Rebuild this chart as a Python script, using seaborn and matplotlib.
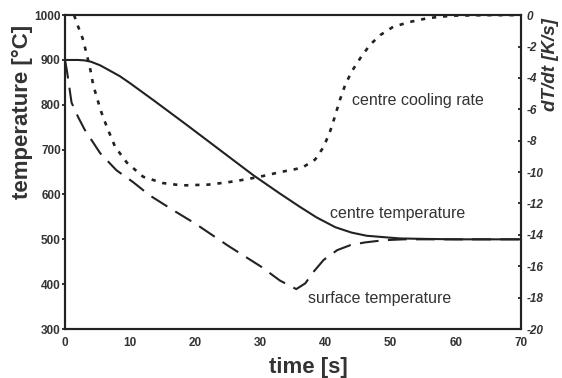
import matplotlib
matplotlib.use("Agg")
import matplotlib.pyplot as plt
import seaborn as sns

# centre temperature (solid)
centre_time = [0, 2, 3, 4, 5.4, 8.4, 10, 13.6, 18.7, 23.8, 28.9, 31, 33, 36, 38.6, 41.5, 44, 46.3, 48.8, 51.4, 55, 60, 70]
centre_temp = [900, 900, 899, 896, 888, 864, 848, 810, 755, 699, 643, 622, 602, 573, 549, 527, 515, 508, 505, 502, 501, 500, 500]

# surface temperature (dashed)
surface_time = [0, 0.3, 1, 2, 3, 5.4, 7.9, 10.5, 13, 16.6, 20, 25, 30, 33, 35.5, 36.9, 38, 39.7, 41.8, 43.8, 46, 48.9, 52, 60, 70]
surface_temp = [900, 875, 805, 773, 745, 692, 654, 627, 598, 565, 535, 486, 440, 408, 389, 402, 425, 454, 476, 487, 493, 498, 500, 500, 500]

# centre cooling rate (dotted, right axis)
rate_time = [1.4, 1.8, 2.7, 3.3, 3.9, 4.35, 5, 5.5, 6.4, 7.7, 9.5, 12, 15, 18, 22, 25, 28, 31, 33, 35, 36.5,
             38.4, 39.7, 40.7, 41.4, 42.2, 43, 44, 45.3, 46.8, 48.4, 50.4, 53, 55.5, 57.6, 60, 65, 70]
rate_value = [0, -0.5, -1.48, -2.44, -3.5, -4.5, -5.4, -6.1, -7.1, -8.4, -9.4, -10.3, -10.7, -10.85, -10.8, -10.65,
              -10.45, -10.2, -10.0, -9.85, -9.7, -9.2, -8.4, -7.4, -6.5, -5.4, -4.46, -3.6, -2.76, -1.9, -1.27,
              -0.74, -0.43, -0.21, -0.1, -0.03, 0, 0]

x_ticks = [0, 10, 20, 30, 40, 50, 60, 70]
temp_ticks = [300, 400, 500, 600, 700, 800, 900, 1000]
rate_ticks = [0, -2, -4, -6, -8, -10, -12, -14, -16, -18, -20]

sns.set_style("white")
plt.rcParams["font.family"] = ["Liberation Sans", "DejaVu Sans"]
plt.rcParams["axes.unicode_minus"] = False

ink = "#222222"
txt = "#333333"

fig, ax = plt.subplots(figsize=(5.62, 3.78), dpi=100)
fig.subplots_adjust(left=0.1157, right=0.927, bottom=0.1296, top=0.960)
ax2 = ax.twinx()

sns.lineplot(x=centre_time, y=centre_temp, ax=ax, color=ink, lw=1.5, estimator=None, sort=False)
sns.lineplot(x=surface_time, y=surface_temp, ax=ax, color=ink, lw=1.5, estimator=None, sort=False,
             linestyle=(0, (9, 4.5)))
sns.lineplot(x=rate_time, y=rate_value, ax=ax2, color=ink, lw=1.9, estimator=None, sort=False,
             linestyle=(0, (1.6, 2.6)))

ax.set_xlim(0, 70)
ax.set_ylim(300, 1000)
ax2.set_ylim(-20, 0)

ax.set_xticks(x_ticks)
ax.set_xticklabels([str(v) for v in x_ticks], fontweight="bold", fontsize=8.5, color=txt)
ax.set_yticks(temp_ticks)
ax.set_yticklabels([str(v) for v in temp_ticks], fontweight="bold", fontsize=8.5, color=txt)
ax2.set_yticks(rate_ticks)
ax2.set_yticklabels([str(v) for v in rate_ticks], fontweight="bold", fontstyle="italic", fontsize=8.5, color=txt)

ax.tick_params(axis="x", direction="out", length=2.5, width=1.3, color=ink, pad=3.5)
ax.tick_params(axis="y", direction="out", length=2.5, width=1.3, color=ink, pad=0.5)
ax2.tick_params(axis="y", direction="in", length=2.5, width=1.3, color=ink, pad=4)

for a in (ax, ax2):
    for s in a.spines.values():
        s.set_visible(True)
        s.set_linewidth(1.5)
        s.set_color(ink)

ax.set_xlabel("time [s]", fontsize=16, fontweight="bold", color=txt)
ax.xaxis.set_label_coords(0.533, -0.09)
ax.set_ylabel("temperature [°C]", fontsize=16, fontweight="bold", color=txt)
ax.yaxis.set_label_coords(-0.07, 0.69)
ax2.set_ylabel("dT/dt [K/s]", fontsize=13.5, fontweight="bold", fontstyle="italic", color=txt)
ax2.yaxis.set_label_coords(1.046, 0.842)

ax.text(44.1, 799, "centre cooling rate", fontsize=11.5, color=txt, ha="left", va="baseline")
ax.text(40.7, 547, "centre temperature", fontsize=11.5, color=txt, ha="left", va="baseline")
ax.text(37.35, 357, "surface temperature", fontsize=11.5, color=txt, ha="left", va="baseline")

fig.savefig("out.png", dpi=100)
plt.close(fig)
